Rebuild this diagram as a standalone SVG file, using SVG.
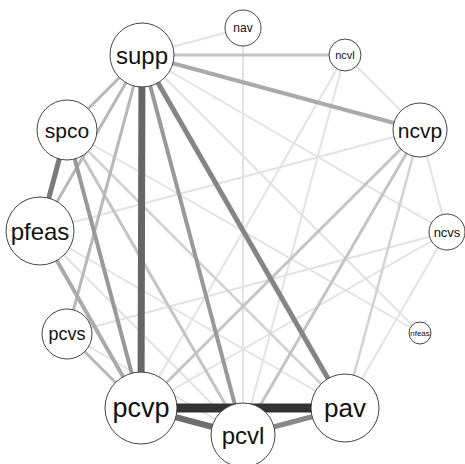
<svg xmlns="http://www.w3.org/2000/svg" width="465" height="464" viewBox="0 0 465 464">
<style>
.n circle{fill:#fff;stroke:#444;stroke-width:1}
.n text{font-family:"Liberation Sans",Arial,sans-serif;text-anchor:middle;dominant-baseline:central;fill:#111}
.e line{stroke-linecap:butt}
.l1{stroke:#e2e2e2;stroke-width:2}
.l2{stroke:#d2d2d2;stroke-width:2.5}
.l3{stroke:#c4c4c4;stroke-width:3}
.l4{stroke:#b8b8b8;stroke-width:3}
</style>
<rect width="465" height="464" fill="#fff"/>
<g id="connectors" class="e">
  <line class="l1" x1="142" y1="55" x2="243" y2="28"/>
  <line class="l1" x1="142" y1="55" x2="447" y2="232"/>
  <line class="l1" x1="142" y1="55" x2="420" y2="333"/>
  <line class="l1" x1="243" y1="28" x2="243" y2="435"/>
  <line class="l1" x1="345" y1="55" x2="420" y2="130"/>
  <line class="l1" x1="345" y1="55" x2="141" y2="408"/>
  <line class="l1" x1="345" y1="55" x2="243" y2="435"/>
  <line class="l1" x1="420" y1="130" x2="447" y2="232"/>
  <line class="l1" x1="420" y1="130" x2="40" y2="231"/>
  <line class="l1" x1="447" y1="232" x2="67" y2="334"/>
  <line class="l1" x1="447" y1="232" x2="141" y2="408"/>
  <line class="l1" x1="447" y1="232" x2="345" y2="408"/>
  <line class="l1" x1="67" y1="130" x2="420" y2="333"/>
  <line class="l1" x1="40" y1="231" x2="345" y2="408"/>
  <line class="l1" x1="40" y1="231" x2="243" y2="435"/>
  <line class="l1" x1="67" y1="334" x2="243" y2="435"/>
  <line class="l2" x1="420" y1="130" x2="345" y2="408"/>
  <line class="l2" x1="67" y1="130" x2="345" y2="408"/>
  <line class="l3" x1="67" y1="130" x2="243" y2="435"/>
  <line class="l3" x1="420" y1="130" x2="243" y2="435"/>
  <line class="l3" x1="420" y1="130" x2="141" y2="408"/>
  <line class="l3" x1="142" y1="55" x2="345" y2="55"/>
  <line class="l4" x1="142" y1="55" x2="67" y2="130"/>
  <line class="l4" x1="142" y1="55" x2="40" y2="231"/>
  <line class="l4" x1="142" y1="55" x2="67" y2="334"/>
  <line class="l4" x1="67" y1="334" x2="141" y2="408"/>
  <line stroke="#aaa" stroke-width="4" x1="142" y1="55" x2="420" y2="130"/>
  <line stroke="#aaa" stroke-width="4" x1="40" y1="231" x2="141" y2="408"/>
  <line stroke="#999" stroke-width="4" x1="67" y1="130" x2="141" y2="408"/>
  <line stroke="#999" stroke-width="4" x1="142" y1="55" x2="243" y2="435"/>
  <line stroke="#858585" stroke-width="5" x1="142" y1="55" x2="345" y2="408"/>
  <line stroke="#7a7a7a" stroke-width="5" x1="67" y1="130" x2="40" y2="231"/>
  <line stroke="#888" stroke-width="5" x1="243" y1="435" x2="345" y2="408"/>
  <line stroke="#6e6e6e" stroke-width="6" x1="141" y1="408" x2="243" y2="435"/>
  <line stroke="#666" stroke-width="7" x1="142" y1="55" x2="141" y2="408"/>
  <line stroke="#333" stroke-width="9" x1="141" y1="408" x2="345" y2="408"/>
</g>
<g id="supp" class="n"><circle cx="142" cy="55" r="32"/><text x="142" y="55" font-size="24">supp</text></g>
<g id="nav" class="n"><circle cx="243" cy="28" r="18"/><text x="243" y="28" font-size="12">nav</text></g>
<g id="ncvl" class="n"><circle cx="345" cy="55" r="16"/><text x="345" y="55" font-size="11">ncvl</text></g>
<g id="ncvp" class="n"><circle cx="420" cy="130" r="27"/><text x="420" y="130" font-size="21">ncvp</text></g>
<g id="ncvs" class="n"><circle cx="447" cy="232" r="18"/><text x="447" y="232" font-size="13">ncvs</text></g>
<g id="nfeas" class="n"><circle cx="420" cy="333" r="11"/><text x="420" y="333" font-size="8">nfeas</text></g>
<g id="pav" class="n"><circle cx="345" cy="408" r="34"/><text x="345" y="408" font-size="26">pav</text></g>
<g id="pcvl" class="n"><circle cx="243" cy="435" r="32"/><text x="243" y="435" font-size="24">pcvl</text></g>
<g id="pcvp" class="n"><circle cx="141" cy="408" r="36"/><text x="141" y="408" font-size="27">pcvp</text></g>
<g id="pcvs" class="n"><circle cx="67" cy="334" r="25"/><text x="67" y="334" font-size="18">pcvs</text></g>
<g id="pfeas" class="n"><circle cx="40" cy="231" r="34"/><text x="40" y="231" font-size="24">pfeas</text></g>
<g id="spco" class="n"><circle cx="67" cy="130" r="30"/><text x="67" y="130" font-size="21">spco</text></g>
</svg>
